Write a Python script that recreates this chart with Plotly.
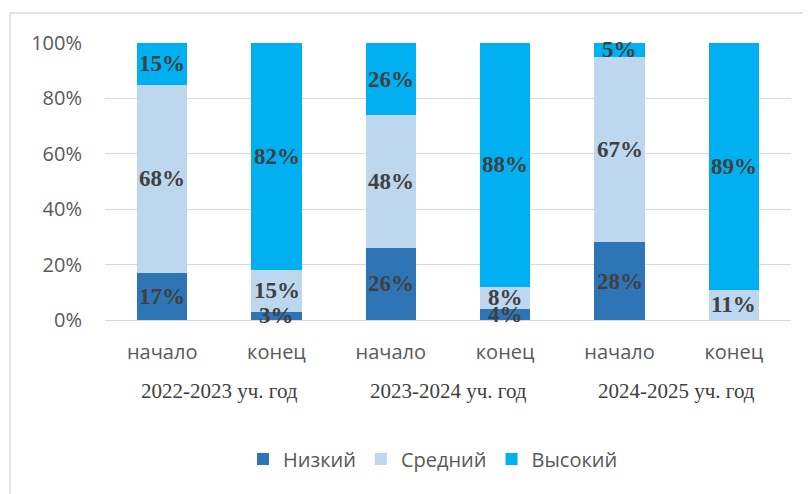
import plotly.graph_objects as go

# ---- data ----
categories = ["2022-2023 начало", "2022-2023 конец",
              "2023-2024 начало", "2023-2024 конец",
              "2024-2025 начало", "2024-2025 конец"]
tick_labels = ["начало", "конец", "начало", "конец", "начало", "конец"]
year_groups = ["2022-2023 уч. год", "2023-2024 уч. год", "2024-2025 уч. год"]
low = [17, 3, 26, 4, 28, 0]
mid = [68, 15, 48, 8, 67, 11]
high = [15, 82, 26, 88, 5, 89]
series_names = ["Низкий", "Средний", "Высокий"]
series_values = [low, mid, high]
colors = ["#2E75B6", "#BDD7EE", "#00B0F0"]

W, H = 811, 494
OFF = 8  # page body margin
ML, MT = 105 - OFF, 43 - OFF
PR, PB = 791 - OFF, 320 - OFF
MR, MB = W - PR, H - PB
pw, ph = PR - ML, PB - MT


def px_to_paper_x(px):
    return (px - OFF - ML) / pw


def px_to_paper_y(py):
    return (PB - (py - OFF)) / ph


fig = go.Figure()
for name, vals, col in zip(series_names, series_values, colors):
    fig.add_trace(go.Bar(x=categories, y=vals, name=name, marker_color=col,
                         marker_line_width=0, width=0.44))

# data labels centred in each segment
annotations = []
for i, cat in enumerate(categories):
    base = 0
    for vals in series_values:
        v = vals[i]
        if v > 0:
            annotations.append(dict(
                x=cat, y=base + v / 2, xref="x", yref="y", text=f"{v}%",
                showarrow=False, xanchor="center", yanchor="middle",
                font=dict(family="Liberation Serif", size=23, color="#404040", weight="bold")))
        base += v

# year group labels
for g, label in enumerate(year_groups):
    annotations.append(dict(
        x=2 * g + 0.5, y=px_to_paper_y(391), xref="x", yref="paper", text=label,
        showarrow=False, xanchor="center", yanchor="middle",
        font=dict(family="Liberation Serif", size=21, color="#404040")))

fig.update_layout(
    width=W, height=H,
    margin=dict(l=ML, r=MR, t=MT, b=MB),
    barmode="stack",
    plot_bgcolor="white",
    paper_bgcolor="white",
    font=dict(family="Open Sans", size=20, color="#595959"),
    showlegend=True,
    legend=dict(orientation="h", x=px_to_paper_x(243), xanchor="left",
                y=px_to_paper_y(459), yanchor="middle",
                font=dict(family="Open Sans", size=20, color="#595959"),
                traceorder="normal"),
    annotations=annotations,
    shapes=[dict(type="rect", xref="paper", yref="paper",
                 x0=px_to_paper_x(10), x1=px_to_paper_x(840),
                 y0=px_to_paper_y(540), y1=px_to_paper_y(13),
                 line=dict(color="#D9D9D9", width=1.5), fillcolor="rgba(0,0,0,0)",
                 layer="below")],
)
fig.update_xaxes(type="category", tickvals=categories, ticktext=tick_labels,
                 showgrid=False, showline=True, linecolor="#D9D9D9", linewidth=1,
                 ticks="outside", ticklen=14, tickcolor="rgba(0,0,0,0)",
                 tickfont=dict(family="Open Sans", size=20, color="#595959"))
fig.update_yaxes(range=[0, 100], dtick=20, ticksuffix="%", showgrid=True,
                 gridcolor="#D9D9D9", gridwidth=1, zeroline=False,
                 ticks="outside", ticklen=18, tickcolor="rgba(0,0,0,0)",
                 tickfont=dict(family="Open Sans", size=20, color="#595959"))

fig.write_html("out.html")
